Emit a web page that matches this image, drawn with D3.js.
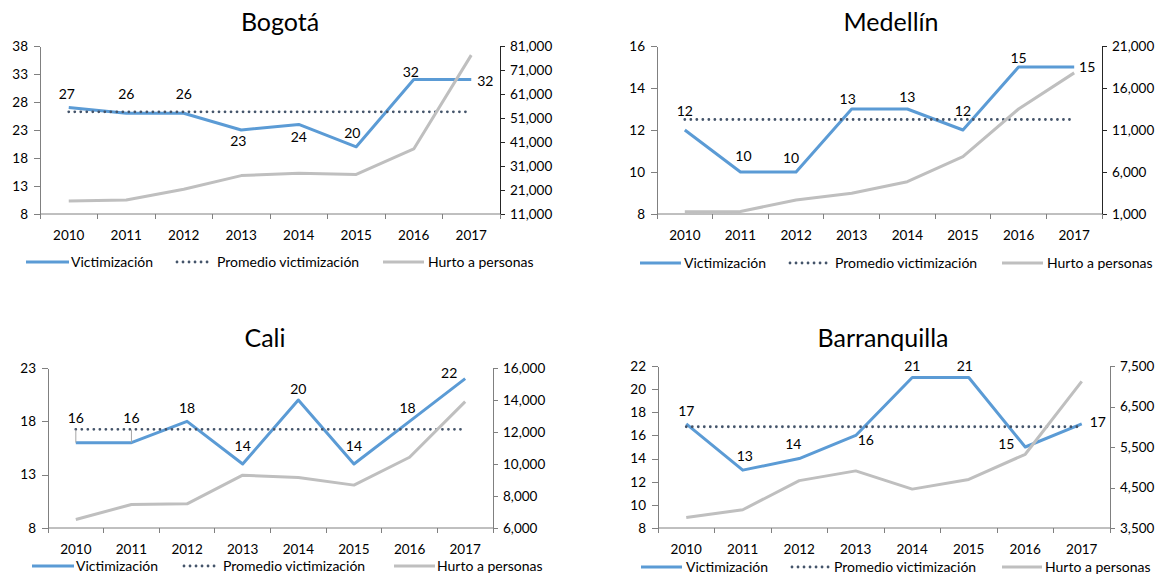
<!DOCTYPE html>
<meta charset="utf-8">
<style>
body{
  margin: 0;
  background: #fff;
}
svg text {
  font-family: Lato, "Open Sans", sans-serif;
  fill: #000;
}
.axis path, .axis line {
  stroke: #808080;
  shape-rendering: crispEdges;
}
.axis text {
  font-size: 13.5px;
}
.xlab text {
  font-size: 13.5px;
}
.vict {
  fill: none;
  stroke: #5b9bd5;
  stroke-width: 3;
  stroke-linejoin: round;
}
.prom {
  fill: none;
  stroke: #44546a;
  stroke-width: 2.8;
  stroke-linecap: round;
  stroke-dasharray: 0.01 6;
}
.hurto {
  fill: none;
  stroke: #bfbfbf;
  stroke-width: 3;
  stroke-linejoin: round;
}
.label {
  font-size: 14px;
}
.legend text {
  font-size: 14px;
}
.title {
  font-size: 25px;
  font-weight: 400;
}
</style>
<svg width="1159" height="575"></svg>
<script src="https://cdn.jsdelivr.net/npm/d3@7"></script>
<script>

var years = ["2010", "2011", "2012", "2013", "2014", "2015", "2016", "2017"];

// Bogotá
var victBogota = [27, 26, 26, 23, 24, 20, 32, 32];
var promBogota = 26.25;
var hurtoBogota = [16400, 16800, 21300, 27000, 28000, 27500, 38100, 77200];
var bogotaLeftTicks = [8, 13, 18, 23, 28, 33, 38];
var bogotaRightTicks = [11000, 21000, 31000, 41000, 51000, 61000, 71000, 81000];

// Medellín
var victMedellin = [12, 10, 10, 13, 13, 12, 15, 15];
var promMedellin = 12.5;
var hurtoMedellin = [1270, 1300, 2670, 3460, 4850, 7820, 13500, 17800];
var medellinLeftTicks = [8, 10, 12, 14, 16];
var medellinRightTicks = [1000, 6000, 11000, 16000, 21000];

// Cali
var victCali = [16, 16, 18, 14, 20, 14, 18, 22];
var promCali = 17.25;
var hurtoCali = [6530, 7470, 7510, 9300, 9150, 8680, 10420, 13900];
var caliLeftTicks = [8, 13, 18, 23];
var caliRightTicks = [6000, 8000, 10000, 12000, 14000, 16000];

// Barranquilla
var victBarranquilla = [17, 13, 14, 16, 21, 21, 15, 17];
var promBarranquilla = 16.75;
var hurtoBarranquilla = [3760, 3950, 4670, 4910, 4460, 4700, 5320, 7120];
var barranquillaLeftTicks = [8, 10, 12, 14, 16, 18, 20, 22];
var barranquillaRightTicks = [3500, 4500, 5500, 6500, 7500];

var legendNames = ["Victimización", "Promedio victimización", "Hurto a personas"];

// layout for each panel (positions only)
var panels = [
  {title: "Bogotá", vict: victBogota, prom: promBogota, hurto: hurtoBogota,
   lt: bogotaLeftTicks, rt: bogotaRightTicks,
   x0: 40, x1: 500, top: 46, bottom: 214, titleX: 280, titleY: 31, rColor: "#262626",
   legY: 262, leg: [[26, 69, 71], [175, 212, 217], [383, 424, 428]],
   offs: [[-2,-14],[0,-19],[0,-19],[-3,11],[0,13],[-4,-14],[-3,-8],[14,1]]},
  {title: "Medellín", vict: victMedellin, prom: promMedellin, hurto: hurtoMedellin,
   lt: medellinLeftTicks, rt: medellinRightTicks,
   x0: 657, x1: 1102, top: 46, bottom: 214, titleX: 891, titleY: 31, rColor: "#262626",
   legY: 263, leg: [[640, 681, 684], [788, 831, 835], [1002, 1043, 1047]],
   offs: [[0,-19],[3,-16],[-5,-14],[-4,-10],[0,-12],[0,-19],[0,-9],[13,0]]},
  {title: "Cali", vict: victCali, prom: promCali, hurto: hurtoCali,
   lt: caliLeftTicks, rt: caliRightTicks,
   x0: 48, x1: 493, top: 368, bottom: 528, titleX: 265, titleY: 347, rColor: "#808080",
   legY: 566, leg: [[32, 74, 76], [182, 219, 223], [394, 435, 437]],
   offs: [[0,-25],[0,-25],[0,-13],[0,-18],[0,-11],[0,-18],[-2,-13],[-16,-6]],
   leaders: [0, 1]},
  {title: "Barranquilla", vict: victBarranquilla, prom: promBarranquilla, hurto: hurtoBarranquilla,
   lt: barranquillaLeftTicks, rt: barranquillaRightTicks,
   x0: 658, x1: 1110, top: 366, bottom: 528, titleX: 883, titleY: 347, rColor: "#808080",
   legY: 567, leg: [[641, 682, 686], [790, 830, 834], [1002, 1042, 1045]],
   offs: [[0,-13],[2,-14],[-6,-14],[10,5],[0,-11],[-4,-11],[-19,-3],[16,-2]]}
];

var svg = d3.select("svg");

panels.forEach(function(p) {
  var g = svg.append("g");

  var x = d3.scaleBand()
      .domain(years)
      .range([p.x0, p.x1]);
  var bw = x.bandwidth();
  var cx = function(d, i) { return x(years[i]) + bw / 2; };

  var yL = d3.scaleLinear()
      .domain([p.lt[0], p.lt[p.lt.length - 1]])
      .range([p.bottom, p.top]);
  var yR = d3.scaleLinear()
      .domain([p.rt[0], p.rt[p.rt.length - 1]])
      .range([p.bottom, p.top]);

  // title
  g.append("text")
      .attr("class", "title")
      .attr("x", p.titleX)
      .attr("y", p.titleY)
      .attr("text-anchor", "middle")
      .text(p.title);

  // left axis
  g.append("g")
      .attr("class", "axis")
      .attr("transform", "translate(" + p.x0 + ",0)")
      .call(d3.axisLeft(yL).tickValues(p.lt).tickSize(6).tickSizeOuter(0).tickPadding(6));

  // right axis
  var ra = g.append("g")
      .attr("class", "axis")
      .attr("transform", "translate(" + p.x1 + ",0)")
      .call(d3.axisRight(yR).tickValues(p.rt).tickSize(5).tickSizeOuter(0).tickPadding(5)
        .tickFormat(d3.format(",")));
  ra.selectAll("path, line").style("stroke", p.rColor);

  // x axis labels
  var xa = g.append("g")
      .attr("class", "axis xlab")
      .attr("transform", "translate(0," + p.bottom + ")")
      .call(d3.axisBottom(x).tickSize(0).tickPadding(16));
  xa.select(".domain").remove();

  // x axis line + boundary ticks
  g.append("line")
      .attr("x1", p.x0).attr("x2", p.x1)
      .attr("y1", p.bottom).attr("y2", p.bottom)
      .style("stroke", "#808080");
  g.selectAll(".xtick")
      .data(years.concat(["end"]))
    .enter().append("line")
      .attr("x1", function(d) { return d === "end" ? p.x1 : x(d); })
      .attr("x2", function(d) { return d === "end" ? p.x1 : x(d); })
      .attr("y1", p.bottom).attr("y2", p.bottom + 5)
      .style("stroke", "#808080")
      .style("shape-rendering", "crispEdges");

  var lineL = d3.line().x(cx).y(function(d) { return yL(d); });
  var lineR = d3.line().x(cx).y(function(d) { return yR(d); });

  g.append("path")
      .attr("class", "vict")
      .attr("d", lineL(p.vict));

  g.append("line")
      .attr("class", "prom")
      .attr("x1", cx(null, 0)).attr("x2", cx(null, years.length - 1))
      .attr("y1", yL(p.prom)).attr("y2", yL(p.prom));

  g.append("path")
      .attr("class", "hurto")
      .attr("d", lineR(p.hurto));

  // leader lines
  (p.leaders || []).forEach(function(i) {
    g.append("line")
        .attr("x1", cx(null, i)).attr("x2", cx(null, i))
        .attr("y1", yL(p.vict[i]) + p.offs[i][1] + 12)
        .attr("y2", yL(p.vict[i]))
        .style("stroke", "#a6a6a6")
        .style("stroke-width", 1);
  });

  // data labels
  g.selectAll(".label")
      .data(p.vict)
    .enter().append("text")
      .attr("class", "label")
      .attr("x", function(d, i) { return cx(d, i) + p.offs[i][0]; })
      .attr("y", function(d, i) { return yL(d) + p.offs[i][1]; })
      .attr("dy", "0.35em")
      .attr("text-anchor", "middle")
      .text(function(d) { return d; });

  // legend
  var lg = g.append("g").attr("class", "legend");
  var cls = ["vict", "prom", "hurto"];
  p.leg.forEach(function(l, i) {
    lg.append("line")
        .attr("class", cls[i])
        .attr("x1", l[0] + (i === 1 ? 2 : 0)).attr("x2", l[1])
        .attr("y1", p.legY).attr("y2", p.legY);
    lg.append("text")
        .attr("x", l[2])
        .attr("y", p.legY)
        .attr("dy", "0.35em")
        .text(legendNames[i]);
  });
});

</script>
